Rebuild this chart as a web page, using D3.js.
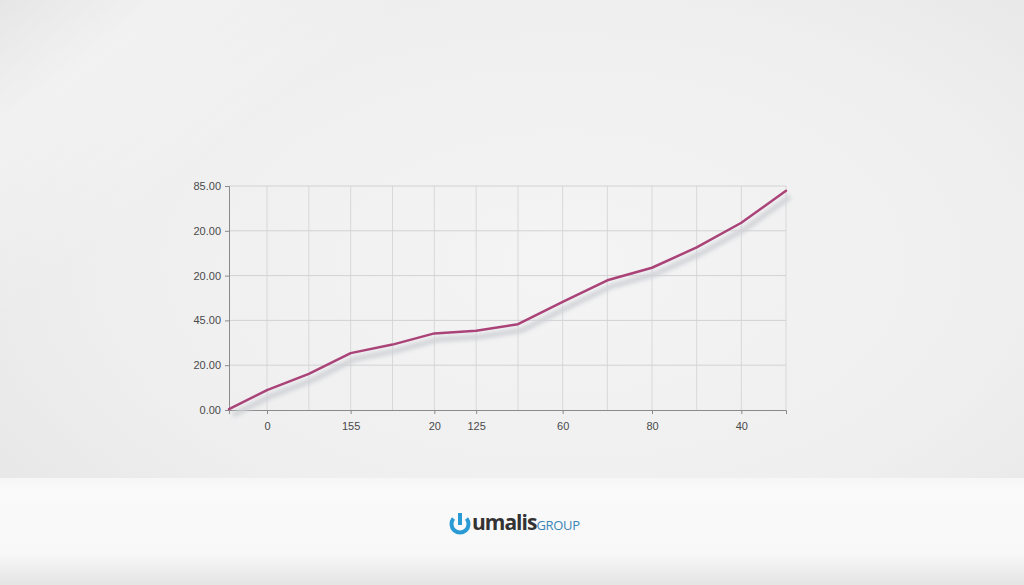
<!DOCTYPE html>
<html>
<head>
<meta charset="utf-8">
<script src="https://cdn.jsdelivr.net/npm/d3@7"></script>
<style>
  html, body { margin: 0; padding: 0; }
  body { width: 1024px; height: 585px; overflow: hidden; }
</style>
</head>
<body>
<svg id="chart"></svg>
<script>
// series values, one per vertical gridline (index 0..13)
const steps = [0, 1, 2, 3, 4, 5, 6, 7, 8, 9, 10, 11, 12, 13];
const values = [0.4, 8.9, 16.1, 25.4, 29.2, 34.2, 35.4, 38.3, 48.3, 57.9, 63.5, 72.6, 83.6, 97.9];

// tick labels as printed on the picture
const yTickValues = [0, 20, 40, 60, 80, 100];
const yTickLabels = ["0.00", "20.00", "45.00", "20.00", "20.00", "85.00"];
const xTickSteps = [1, 3, 5, 6, 8, 10, 12];
const xTickLabels = ["0", "155", "20", "125", "60", "80", "40"];

const width = 1024;
const height = 585;
const lineColor = "#aa4378";

const svg = d3.select("#chart")
  .attr("width", width)
  .attr("height", height)
  .attr("viewBox", `0 0 ${width} ${height}`);

const defs = svg.append("defs");

// backdrop: soft studio wall
const wall = defs.append("radialGradient")
  .attr("id", "wall")
  .attr("cx", "55%").attr("cy", "45%").attr("r", "80%");
wall.append("stop").attr("offset", "0%").attr("stop-color", "#f4f4f5");
wall.append("stop").attr("offset", "55%").attr("stop-color", "#efeff0");
wall.append("stop").attr("offset", "100%").attr("stop-color", "#e3e3e4");

// faint diagonal light streak from the top left
const streak = defs.append("linearGradient")
  .attr("id", "streak")
  .attr("x1", 0).attr("y1", 0).attr("x2", 1).attr("y2", 0.6);
streak.append("stop").attr("offset", "0%").attr("stop-color", "#fff").attr("stop-opacity", 0);
streak.append("stop").attr("offset", "12%").attr("stop-color", "#fff").attr("stop-opacity", 0.35);
streak.append("stop").attr("offset", "30%").attr("stop-color", "#fff").attr("stop-opacity", 0);

const floor = defs.append("linearGradient")
  .attr("id", "floor")
  .attr("x1", 0).attr("y1", 0).attr("x2", 0).attr("y2", 1);
floor.append("stop").attr("offset", "0%").attr("stop-color", "#f6f6f7");
floor.append("stop").attr("offset", "10%").attr("stop-color", "#fafafa");
floor.append("stop").attr("offset", "70%").attr("stop-color", "#f8f8f9");
floor.append("stop").attr("offset", "100%").attr("stop-color", "#e4e4e5");

defs.append("filter")
  .attr("id", "blur")
  .attr("x", "-5%").attr("y", "-20%").attr("width", "110%").attr("height", "140%")
  .append("feGaussianBlur").attr("stdDeviation", 2.2);

svg.append("rect").attr("width", width).attr("height", height).attr("fill", "url(#wall)");
svg.append("rect").attr("width", width).attr("height", 478).attr("fill", "url(#streak)");
svg.append("rect").attr("y", 478).attr("width", width).attr("height", height - 478).attr("fill", "url(#floor)");

// scales
const x = d3.scaleLinear()
  .domain([0, 1, 7, 13])
  .range([229, 267, 518, 786]);
const y = d3.scaleLinear()
  .domain([0, 100])
  .range([410, 186]);

const g = svg.append("g");

// vertical gridlines
g.append("g")
  .selectAll("line")
  .data(steps.slice(1))
  .join("line")
  .attr("x1", (d) => x(d)).attr("x2", (d) => x(d))
  .attr("y1", y(100)).attr("y2", y(0))
  .attr("stroke", "#d8d8da")
  .attr("stroke-width", 1);

// horizontal gridlines
g.append("g")
  .selectAll("line")
  .data(yTickValues.slice(1))
  .join("line")
  .attr("x1", x(0)).attr("x2", x(13))
  .attr("y1", (d) => y(d)).attr("y2", (d) => y(d))
  .attr("stroke", "#d2d2d4")
  .attr("stroke-width", 1);

// y axis
const yAxis = g.append("g")
  .attr("transform", `translate(${x(0)},0)`)
  .call(d3.axisLeft(y)
    .tickValues(yTickValues)
    .tickFormat((d, i) => yTickLabels[i])
    .tickSize(4)
    .tickPadding(4));
yAxis.select(".domain").attr("stroke", "#8a8a8a");
yAxis.selectAll(".tick line").attr("stroke", "#8a8a8a");
yAxis.selectAll(".tick text")
  .attr("fill", "#4a4a4a")
  .attr("font-family", "Liberation Sans, Arial, sans-serif")
  .attr("font-size", 11);

// x axis
const xAxis = g.append("g")
  .attr("transform", `translate(0,${y(0)})`)
  .call(d3.axisBottom(x)
    .tickValues(xTickSteps)
    .tickFormat((d, i) => xTickLabels[i])
    .tickSizeOuter(0)
    .tickSize(4)
    .tickPadding(8));
xAxis.select(".domain").attr("stroke", "#8a8a8a");
xAxis.selectAll(".tick line").attr("stroke", "#8a8a8a");
xAxis.selectAll(".tick text")
  .attr("fill", "#4a4a4a")
  .attr("font-family", "Liberation Sans, Arial, sans-serif")
  .attr("font-size", 11);

const line = d3.line()
  .x((d, i) => x(steps[i]))
  .y((d) => y(d));

// soft shadow below the line
g.append("path")
  .datum(values)
  .attr("d", line)
  .attr("transform", "translate(4,6)")
  .attr("fill", "none")
  .attr("stroke", "#cfd1d5")
  .attr("stroke-width", 5)
  .attr("stroke-linejoin", "round")
  .attr("filter", "url(#blur)");

g.append("path")
  .datum(values)
  .attr("d", line)
  .attr("fill", "none")
  .attr("stroke", lineColor)
  .attr("stroke-width", 2.5)
  .attr("stroke-linejoin", "round")
  .attr("stroke-linecap", "round");

// logo
const logo = svg.append("g").attr("transform", "translate(460,524)");
const arc = d3.arc()
  .innerRadius(6.5).outerRadius(10.5)
  .startAngle(Math.PI * 0.28).endAngle(Math.PI * 1.72);
logo.append("path")
  .attr("d", arc())
  .attr("fill", "#2a9ad4");
logo.append("rect")
  .attr("x", -2).attr("y", -11).attr("width", 4).attr("height", 12)
  .attr("fill", "#2a9ad4");
const logoText = logo.append("text")
  .attr("x", 12).attr("y", 6)
  .attr("font-family", "Open Sans, DejaVu Sans, sans-serif");
logoText.append("tspan")
  .attr("font-size", 21).attr("font-weight", 700)
  .attr("fill", "#333").attr("letter-spacing", -1)
  .text("umalis");
logoText.append("tspan")
  .attr("font-size", 13).attr("fill", "#3b86b5").attr("letter-spacing", -0.3)
  .text("GROUP");
</script>
</body>
</html>
